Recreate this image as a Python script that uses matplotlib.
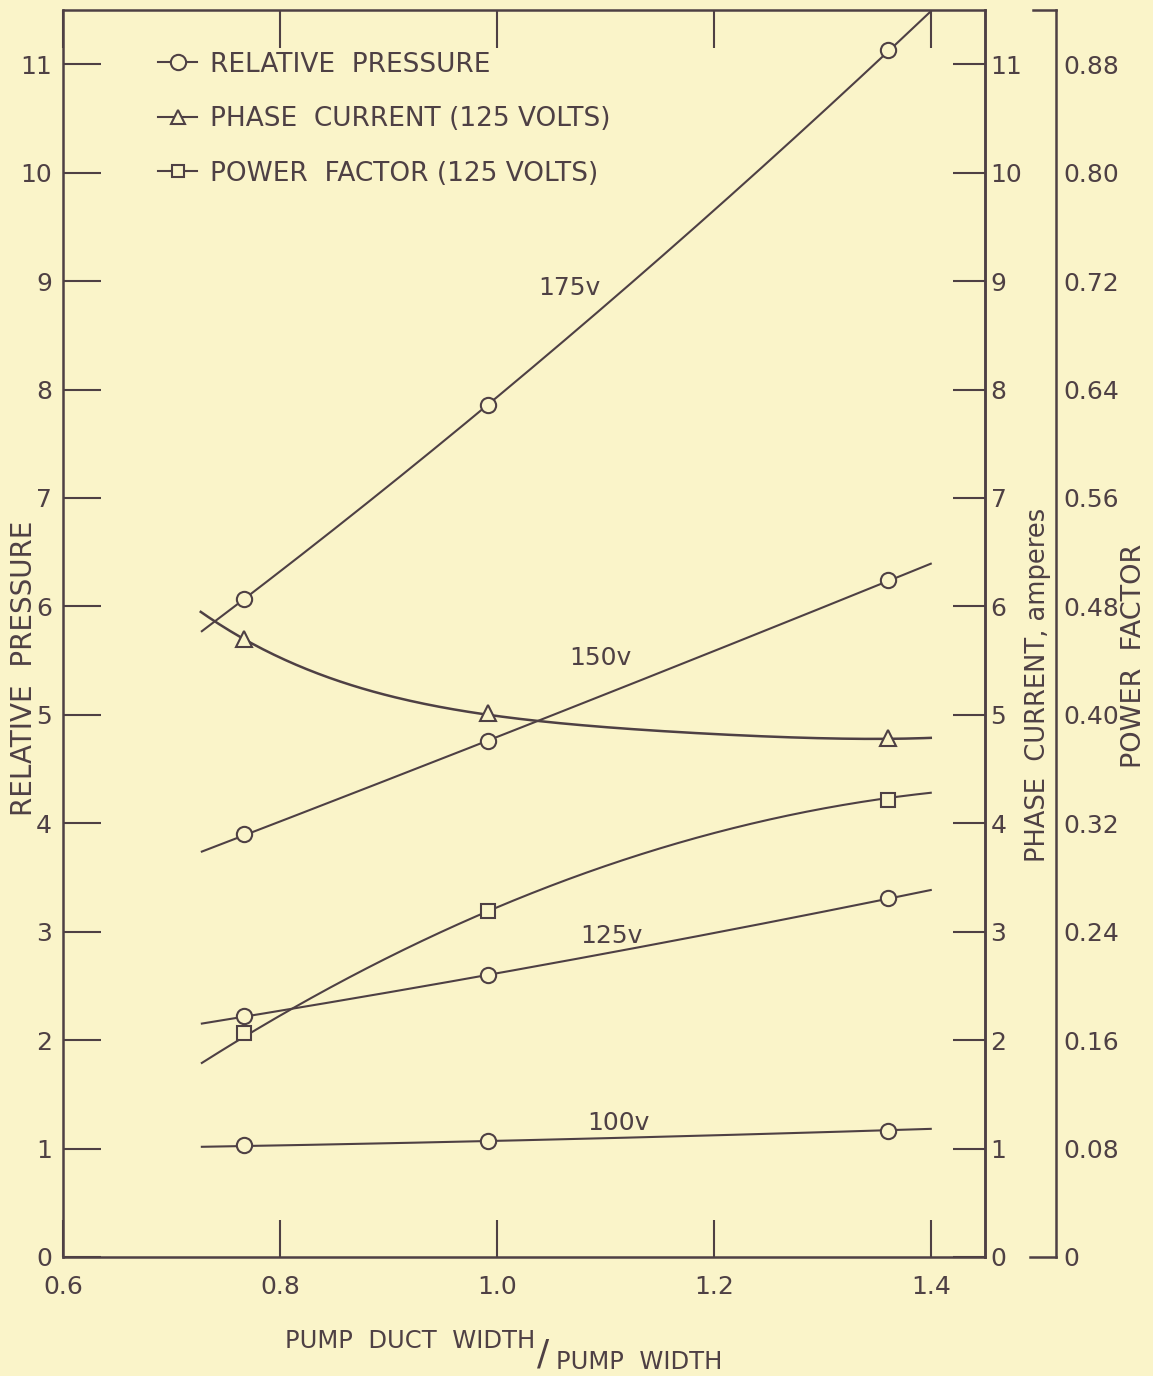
import numpy as np
import matplotlib
matplotlib.use("Agg")
import matplotlib.pyplot as plt
from matplotlib.lines import Line2D

plt.rcParams["font.family"] = ["DejaVu Sans"]

# ---------------- data ----------------
x_points = [0.767, 0.992, 1.361]            # pump duct width / pump width

# relative pressure at the measured points
rp_175 = [6.07, 7.86, 11.13]
rp_150 = [3.90, 4.76, 6.24]
rp_125 = [2.22, 2.60, 3.31]
rp_100 = [1.03, 1.07, 1.16]

# phase current (amperes) and power factor at 125 V
phase_current = [5.70, 5.02, 4.79]
power_factor = [0.165, 0.255, 0.337]

# extent of the drawn curves and the values at their ends
curve_x_ends = [0.728, 1.400]
rp_175_ends = [5.77, 11.48]
rp_150_ends = [3.73, 6.39]
rp_125_ends = [2.15, 3.38]
rp_100_ends = [1.01, 1.19]
pf_ends = [0.141, 0.344]

# phase-current curve traced along its length (x, amperes)
pc_curve_x = [0.727, 0.767, 0.850, 0.930, 0.992, 1.050, 1.150, 1.250, 1.361, 1.400]
pc_curve_y = [5.95, 5.70, 5.32, 5.10, 5.02, 4.93, 4.84, 4.80, 4.79, 4.78]

curve_labels = ["175v", "150v", "125v", "100v"]
x_ticks = [0.6, 0.8, 1.0, 1.2, 1.4]
x_tick_labels = ["0.6", "0.8", "1.0", "1.2", "1.4"]
y_ticks = list(range(0, 12))
pf_ticks = [0, 0.08, 0.16, 0.24, 0.32, 0.40, 0.48, 0.56, 0.64, 0.72, 0.80, 0.88]
pf_tick_labels = ["0", "0.08", "0.16", "0.24", "0.32", "0.40", "0.48",
                  "0.56", "0.64", "0.72", "0.80", "0.88"]

# ---------------- style ----------------
BG = "#FAF4C9"
INK = "#4e4044"
W, H, DPI = 1153, 1376, 100
FS = 18

fig = plt.figure(figsize=(W / DPI, H / DPI), dpi=DPI, facecolor=BG)
L, R, T, B = 63, 985, 10, 1257
ax = fig.add_axes([L / W, 1 - B / H, (R - L) / W, (B - T) / H])
ax.set_facecolor(BG)
YMAX = 11.5
ax.set_xlim(0.6, 1.45)
ax.set_ylim(0, YMAX)

ax2 = ax.twinx()
ax2.set_ylim(0, YMAX)
ax3 = ax.twinx()
ax3.set_ylim(0, YMAX * 0.08)


def fitted(xs, ys, deg=2, n=200):
    c = np.polyfit(xs, ys, deg)
    xx = np.linspace(min(xs), max(xs), n)
    return xx, np.polyval(c, xx)


lw = 1.5
mk = dict(markersize=11, markerfacecolor=BG, markeredgecolor=INK,
          markeredgewidth=1.5, linestyle="none", zorder=5)

for ys, ends in [(rp_175, rp_175_ends), (rp_150, rp_150_ends),
                 (rp_125, rp_125_ends), (rp_100, rp_100_ends)]:
    xs = [curve_x_ends[0]] + x_points + [curve_x_ends[1]]
    yy = [ends[0]] + ys + [ends[1]]
    cx, cy = fitted(xs, yy)
    ax.plot(cx, cy, color=INK, lw=lw, zorder=3)
    ax.plot(x_points, ys, marker="o", **mk)

# phase current
cx, cy = fitted(pc_curve_x, pc_curve_y, deg=4)
ax2.plot(cx, cy, color=INK, lw=lw + 0.3, zorder=3)
ax2.plot(x_points, phase_current, marker="^", **mk)

# power factor
xs = [curve_x_ends[0]] + x_points + [curve_x_ends[1]]
yy = [pf_ends[0]] + power_factor + [pf_ends[1]]
cx, cy = fitted(xs, yy)
ax3.plot(cx, cy, color=INK, lw=lw, zorder=3)
ax3.plot(x_points, power_factor, marker="s", **{**mk, "markersize": 10})

# curve labels
label_pos = [(1.067, 8.94), (1.095, 5.52), (1.106, 2.96), (1.112, 1.24)]
for txt, (lx, ly) in zip(curve_labels, label_pos):
    ax.text(lx, ly, txt, color=INK, fontsize=18, ha="center", va="center")

# ---------------- axes styling ----------------
for a in (ax, ax2, ax3):
    for s in a.spines.values():
        s.set_color(INK)
        s.set_linewidth(1.8)

ax.set_xticks(x_ticks)
ax.set_xticklabels(x_tick_labels)
ax.set_yticks(y_ticks)
ax.set_yticklabels([str(v) for v in y_ticks])
ax.tick_params(axis="y", direction="in", length=27, width=1.5, colors=INK,
               labelsize=FS, pad=8, right=False)
ax.tick_params(axis="x", direction="in", length=27, width=1.5, colors=INK,
               labelsize=FS, pad=13, top=True)

ax2.set_yticks(y_ticks)
ax2.set_yticklabels([str(v) for v in y_ticks])
ax2.tick_params(axis="y", direction="in", length=23, width=1.5, colors=INK,
                labelsize=FS, pad=4)
for k in ("left", "top", "bottom"):
    ax2.spines[k].set_visible(False)

ax3.spines["right"].set_position(("outward", 71 * 72 / DPI))
for k in ("left", "top", "bottom"):
    ax3.spines[k].set_visible(False)
ax3.set_yticks(pf_ticks)
ax3.set_yticklabels(pf_tick_labels)
ax3.tick_params(axis="y", length=0, colors=INK, labelsize=FS, pad=5)

# short horizontal caps on the power-factor scale
axw = R - L
for y, x0, x1 in [(1.0, 1033, 1056), (0.0, 1030, 1056)]:
    ax.add_line(Line2D([(x0 - L) / axw, (x1 - L) / axw], [y, y],
                       transform=ax.transAxes, color=INK, lw=1.8, clip_on=False))

# legend
handles = [
    Line2D([], [], color=INK, lw=lw, marker="o", markersize=11,
           markerfacecolor=BG, markeredgecolor=INK, markeredgewidth=1.5),
    Line2D([], [], color=INK, lw=lw, marker="^", markersize=10,
           markerfacecolor=BG, markeredgecolor=INK, markeredgewidth=1.5),
    Line2D([], [], color=INK, lw=lw, marker="s", markersize=9,
           markerfacecolor=BG, markeredgecolor=INK, markeredgewidth=1.5),
]
labels = ["RELATIVE  PRESSURE", "PHASE  CURRENT (125 VOLTS)", "POWER  FACTOR (125 VOLTS)"]
leg = ax.legend(handles, labels, loc="upper left", bbox_to_anchor=(0.092, 0.975),
                frameon=False, fontsize=19, handlelength=1.45, handletextpad=0.5,
                labelspacing=1.08, borderaxespad=0, labelcolor=INK)

# axis titles
fig.text(24 / W, 1 - 668 / H, "RELATIVE  PRESSURE", rotation=90, ha="center",
         va="center", fontsize=20, color=INK)
fig.text(1038 / W, 1 - 685 / H, "PHASE  CURRENT, amperes", rotation=90, ha="center",
         va="center", fontsize=18.5, color=INK)
fig.text(1134 / W, 1 - 656 / H, "POWER  FACTOR", rotation=90, ha="center",
         va="center", fontsize=19.5, color=INK)
fig.text(285 / W, 1 - 1348 / H, "PUMP  DUCT  WIDTH", ha="left", va="baseline",
         fontsize=17.5, color=INK)
fig.text(537 / W, 1 - 1364 / H, "/", ha="left", va="baseline",
         fontsize=26, color=INK)
fig.text(556 / W, 1 - 1369 / H, "PUMP  WIDTH", ha="left", va="baseline",
         fontsize=17.5, color=INK)

fig.savefig("out.png", dpi=DPI, facecolor=BG)
